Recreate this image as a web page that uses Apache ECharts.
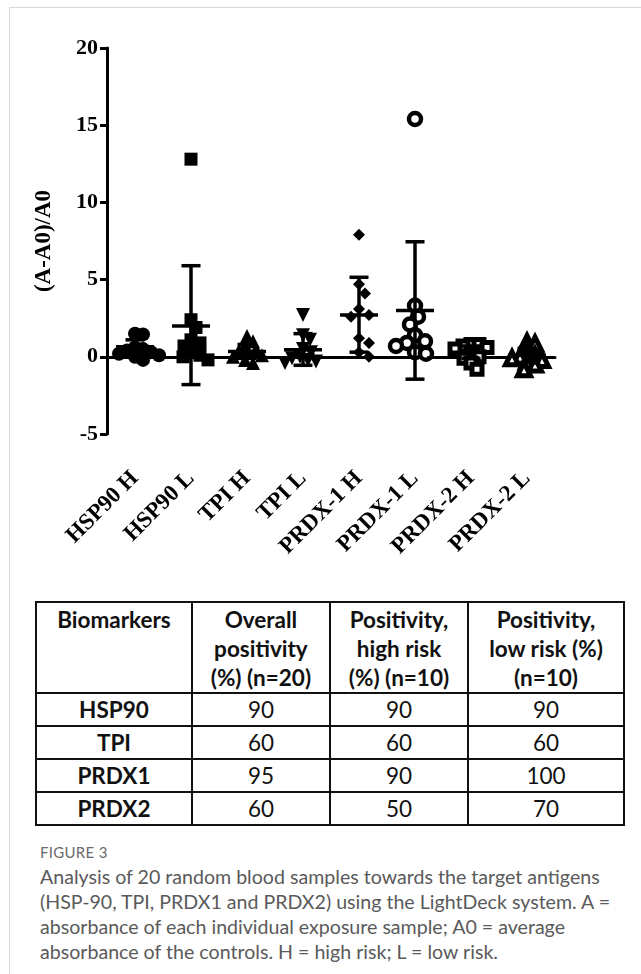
<!DOCTYPE html>
<html>
<head>
<meta charset="utf-8">
<script src="https://cdn.jsdelivr.net/npm/echarts@6/dist/echarts.min.js"></script>
<style>
  html, body { margin:0; padding:0; background:#fff; width:641px; height:974px; overflow:hidden; }
  #card { position:absolute; left:9px; top:7px; width:700px; height:1000px; border-top:1.5px solid #d8d8d8; border-left:1.5px solid #d8d8d8; }
  #chart { position:absolute; left:0; top:0; width:641px; height:590px; }
  table { position:absolute; left:35px; top:601px; width:590px; border-collapse:collapse; font-family:Lato, "Open Sans", sans-serif; font-size:22.5px; color:#111; }
  td, th { border:2px solid #111; text-align:center; padding:0; }
  th { font-weight:bold; vertical-align:top; line-height:29px; padding-top:2px; }
  td { height:31px; line-height:29px; }
  td.b { font-weight:bold; }
  #fig { position:absolute; left:40px; top:843px; font-family:Lato, "Open Sans", sans-serif; font-size:15px; color:#6a6a6a; letter-spacing:0.3px; }
  #cap { position:absolute; left:40px; top:864px; width:600px; white-space:nowrap; font-family:Lato, "Open Sans", sans-serif; font-size:19.6px; line-height:25px; color:#5a5a5a; }
</style>
</head>
<body>
<div id="card"></div>
<div id="chart"></div>
<table id="tbl"></table>
<div id="fig">FIGURE 3</div>
<div id="cap"></div>
<script>
// ---- data ----
var categories = ['HSP90 H', 'HSP90 L', 'TPI H', 'TPI L', 'PRDX-1 H', 'PRDX-1 L', 'PRDX-2 H', 'PRDX-2 L'];
var hsp90H = [1.5, 1.45, 0.6, 0.5, 0.4, 0.3, 0.2, 0.1, 0.0, -0.2];
var hsp90L = [12.8, 2.4, 1.9, 1.1, 0.9, 0.7, 0.3, 0.1, 0.0, -0.2];
var tpiH = [1.35, 1.0, 0.8, 0.5, 0.4, 0.3, 0.1, 0.0, -0.2, -0.4];
var tpiL = [2.7, 1.4, 1.1, 0.5, 0.3, 0.0, -0.1, -0.2, -0.3, -0.4];
var prdx1H = [7.9, 4.7, 4.1, 3.1, 2.7, 2.6, 1.2, 0.9, 0.3, 0.0];
var prdx1L = [15.4, 3.3, 2.6, 2.1, 1.4, 1.0, 0.9, 0.7, 0.3, 0.2];
var prdx2H = [0.8, 0.8, 0.7, 0.6, 0.5, 0.2, 0.0, -0.1, -0.4, -0.8];
var prdx2L = [0.95, 0.85, 0.3, 0.1, 0.0, -0.1, -0.2, -0.3, -0.5, -0.8];
// mean and mean-SD / mean+SD bars as drawn
var means = [0.65, 2.0, 0.35, 0.45, 2.7, 3.0, 0.3, 0.1];
var sdLow = [0.2, -1.8, -0.1, -0.55, 0.3, -1.45, -0.1, -0.4];
var sdHigh = [1.1, 5.9, 0.8, 1.5, 5.15, 7.45, 0.7, 0.55];
var yTicks = [-5, 0, 5, 10, 15, 20];

var tableHeader = ['Biomarkers', 'Overall<br>positivity<br>(%) (n=20)', 'Positivity,<br>high risk<br>(%) (n=10)', 'Positivity,<br>low risk (%)<br>(n=10)'];
var biomarkers = ['HSP90', 'TPI', 'PRDX1', 'PRDX2'];
var overallPos = [90, 60, 95, 60];
var highRiskPos = [90, 60, 90, 50];
var lowRiskPos = [90, 60, 100, 70];

var captionLines = [
  'Analysis of 20 random blood samples towards the target antigens',
  '(HSP-90, TPI, PRDX1 and PRDX2) using the LightDeck system. A =',
  'absorbance of each individual exposure sample; A0 = average',
  'absorbance of the controls. H = high risk; L = low risk.'
];

// ---- table + caption ----
var html = '<tr>' + tableHeader.map(function(h){ return '<th>' + h + '</th>'; }).join('') + '</tr>';
biomarkers.forEach(function(b, i){
  html += '<tr><td class="b">' + b + '</td><td>' + overallPos[i] + '</td><td>' + highRiskPos[i] + '</td><td>' + lowRiskPos[i] + '</td></tr>';
});
document.getElementById('tbl').innerHTML = html;
document.getElementById('cap').innerHTML = captionLines.join('<br>');

// ---- chart ----
var groups = [hsp90H, hsp90L, tpiH, tpiL, prdx1H, prdx1L, prdx2H, prdx2L];
var gridTop = 48, gridBottomY = 434;
var pxPerUnit = (gridBottomY - gridTop) / (yTicks[yTicks.length-1] - yTicks[0]);

// simple beeswarm: horizontal offsets so points don't pile up exactly
function swarm(vals, minDist){
  var placed = [], offs = new Array(vals.length);
  var order = vals.map(function(v, i){ return i; }).sort(function(a, b){ return vals[b] - vals[a]; });
  order.forEach(function(i){
    var y = vals[i] * pxPerUnit;
    for (var k = 0; k < 200; k++){
      var dx = k === 0 ? 0 : (k % 2 ? 1 : -1) * Math.ceil(k / 2);
      var ok = placed.every(function(p){ return (p.x - dx) * (p.x - dx) + (p.y - y) * (p.y - y) >= minDist * minDist; });
      if (ok){ placed.push({x: dx, y: y}); offs[i] = dx; break; }
    }
  });
  return offs;
}

var markerStyles = [
  {symbol:'circle', size:14, fill:'#000', border:0, rotate:0, gap:8},
  {symbol:'rect', size:13, fill:'#000', border:0, rotate:0, gap:9},
  {symbol:'triangle', size:14, fill:'#000', border:0, rotate:0, gap:8},
  {symbol:'triangle', size:14, fill:'#000', border:0, rotate:180, gap:8},
  {symbol:'diamond', size:12, fill:'#000', border:0, rotate:0, gap:11},
  {symbol:'circle', size:12, fill:'#fff', border:4.5, rotate:0, gap:11},
  {symbol:'rect', size:10, fill:'#fff', border:5, rotate:0, gap:8},
  {symbol:'triangle', size:13, fill:'#fff', border:5, rotate:0, gap:8}
];

var series = [{
  type:'line', data:[], z:1, silent:true,
  markLine:{
    silent:true, symbol:['none','none'], label:{show:false},
    lineStyle:{color:'#000', width:2.5, type:[2.5,5.5], cap:'butt'},
    emphasis:{disabled:true},
    data:[{yAxis:0}]
  }
}];

groups.forEach(function(vals, gi){
  var st = markerStyles[gi];
  var offs = swarm(vals, st.gap);
  series.push({
    type:'scatter', z:2, silent:true,
    symbol: st.symbol, symbolSize: st.size, symbolRotate: st.rotate,
    itemStyle:{color: st.fill, borderColor:'#000', borderWidth: st.border, opacity:1},
    data: vals.map(function(v, i){ return {value:[gi, v], symbolOffset:[offs[i], 0]}; })
  });
});

series.push({
  type:'custom', z:3, silent:true,
  renderItem:function(params, api){
    var x = api.value(0);
    var pm = api.coord([x, api.value(1)]);
    var pl = api.coord([x, api.value(2)]);
    var ph = api.coord([x, api.value(3)]);
    var st = {stroke:'#000', lineWidth:3.5};
    var cap = 9.5, half = 19;
    return {type:'group', children:[
      {type:'line', shape:{x1:pm[0], y1:ph[1], x2:pm[0], y2:pl[1]}, style:st},
      {type:'line', shape:{x1:pm[0]-cap, y1:ph[1], x2:pm[0]+cap, y2:ph[1]}, style:st},
      {type:'line', shape:{x1:pm[0]-cap, y1:pl[1], x2:pm[0]+cap, y2:pl[1]}, style:st},
      {type:'line', shape:{x1:pm[0]-half, y1:pm[1], x2:pm[0]+half, y2:pm[1]}, style:st}
    ]};
  },
  data: means.map(function(m, i){ return [i, m, sdLow[i], sdHigh[i]]; })
});

var chart = echarts.init(document.getElementById('chart'), null, {renderer:'canvas'});
chart.setOption({
  animation:false,
  backgroundColor:'transparent',
  grid:{left:107, right:86, top:gridTop, height:gridBottomY - gridTop, containLabel:false},
  xAxis:{
    type:'category', data:categories, boundaryGap:true,
    axisLine:{lineStyle:{color:'#000', width:3}},
    axisTick:{alignWithLabel:true, length:7, lineStyle:{color:'#000', width:3}},
    axisLabel:{rotate:45, margin:41, interval:0, color:'#000', fontFamily:'Liberation Serif', fontWeight:'bold', fontSize:23},
    splitLine:{show:false}
  },
  yAxis:{
    type:'value', min:yTicks[0], max:yTicks[yTicks.length-1], interval:5,
    name:'(A-A0)/A0', nameLocation:'middle', nameGap:51, nameRotate:90,
    nameTextStyle:{color:'#000', fontFamily:'Liberation Serif', fontWeight:'bold', fontSize:23},
    axisLine:{show:true, lineStyle:{color:'#000', width:3}},
    axisTick:{show:true, length:7, lineStyle:{color:'#000', width:3}},
    axisLabel:{margin:9, color:'#000', fontFamily:'Liberation Serif', fontWeight:'bold', fontSize:22},
    splitLine:{show:false}
  },
  series: series
});
</script>
</body>
</html>
